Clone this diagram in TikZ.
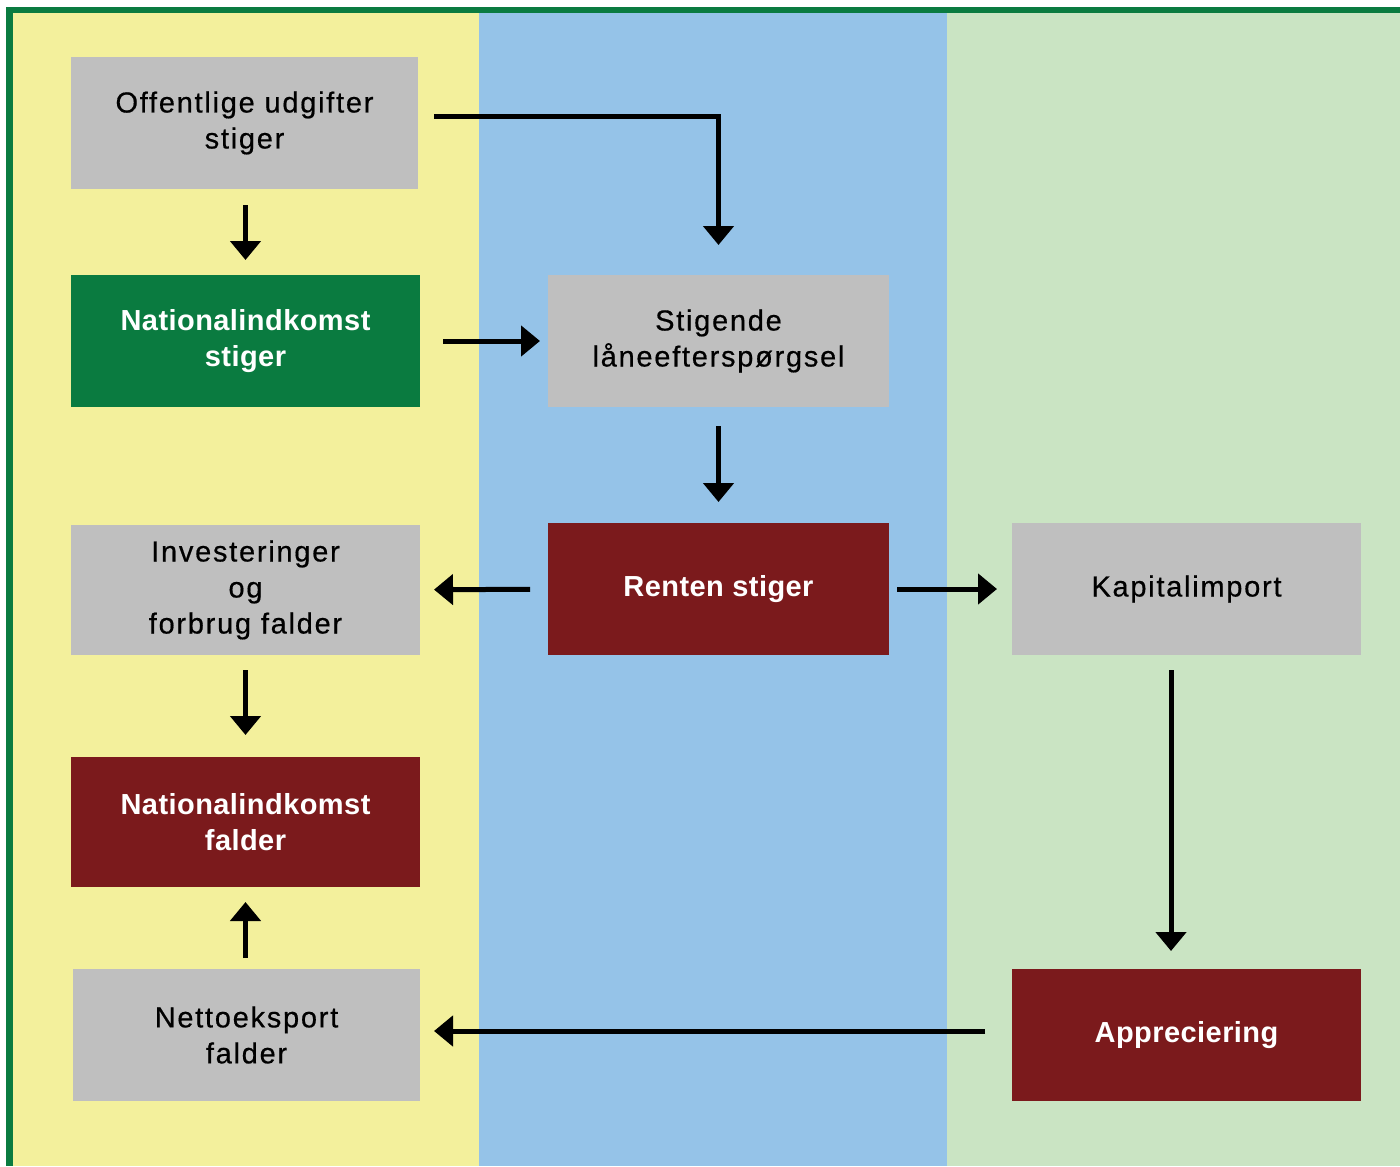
\documentclass[tikz,border=0pt]{standalone}
\usepackage{fontspec}
\setmainfont{Liberation Sans}
\usepackage{tikz}
\usetikzlibrary{calc,arrows.meta}

\definecolor{bgyellow}{RGB}{243,240,156}
\definecolor{bgblue}{RGB}{149,195,232}
\definecolor{bggreen}{RGB}{202,228,195}
\definecolor{boxgray}{RGB}{191,191,191}
\definecolor{darkgreen}{RGB}{10,123,64}
\definecolor{darkred}{RGB}{123,26,28}

\begin{document}
\begin{tikzpicture}[x=0.5pt,y=-0.5pt,inner sep=0pt,outer sep=0pt,
    every node/.style={font=\fontsize{14.5}{18}\selectfont, align=center},
    graybox/.style={fill=boxgray, minimum width=174.5pt, minimum height=66pt,
        font=\fontsize{14.5}{18}\selectfont\addfontfeatures{LetterSpace=6,FakeBold=0.5}},
    greenbox/.style={fill=darkgreen, text=white, minimum width=174.5pt, minimum height=66pt,
        font=\fontsize{14.5}{18}\selectfont\bfseries\addfontfeatures{LetterSpace=1.5}},
    redbox/.style={fill=darkred, text=white, minimum width=174.5pt, minimum height=66pt,
        font=\fontsize{14.5}{18}\selectfont\bfseries\addfontfeatures{LetterSpace=1.5}},
    arr/.style={line width=2.5pt, -{Triangle[length=9.5pt,width=15pt]}}]

    % background columns and frame
    \fill[white] (0,0) rectangle (1400,1166);
    \fill[darkgreen] (6,7) rectangle (1400,1166);
    \fill[bgyellow] (13,13) rectangle (479,1166);
    \fill[bgblue] (479,13) rectangle (947,1166);
    \fill[bggreen] (947,13) rectangle (1400,1166);

    % left column
    \node[graybox, minimum width=173.5pt] (off) at (244.5,123) {Offentlige udgifter\\stiger};
    \node[greenbox] (natup) at (245.5,341) {Nationalindkomst\\stiger};
    \node[graybox, minimum height=65pt] (inv) at (245.5,590) {Investeringer\\og\\forbrug falder};
    \node[redbox, minimum height=65pt] (natdown) at (245.5,822) {Nationalindkomst\\falder};
    \node[graybox, minimum width=173.5pt] (netto) at (246.5,1035) {Nettoeksport\\falder};

    % middle column
    \node[graybox, minimum width=170.5pt] (laan) at (718.5,341) {Stigende\\låneefterspørgsel};
    \node[redbox, minimum width=170.5pt] (rente) at (718.5,589) {Renten stiger};

    % right column
    \node[graybox] (kap) at (1186.5,589) {Kapitalimport};
    \node[redbox] (app) at (1186.5,1035) {Appreciering};

    % arrows
    \draw[arr, shorten <=8pt, shorten >=7.5pt] (natup.north |- off.south) -- (natup.north);
    \draw[arr, shorten <=8pt, shorten >=15pt] ([yshift=3pt]off.east) -| (laan.north);
    \draw[arr, shorten <=11.5pt, shorten >=4pt] (natup) -- (laan);
    \draw[arr, shorten <=9.5pt, shorten >=10.5pt] (laan) -- (rente);
    \draw[arr, shorten <=9pt, shorten >=7pt] (rente) -- (inv);
    \draw[arr, shorten <=4pt, shorten >=7.5pt] (rente) -- (kap);
    \draw[arr, shorten <=7.5pt, shorten >=11pt] (inv) -- (natdown);
    \draw[arr, shorten <=5.5pt, shorten >=7.5pt] (natdown.south |- netto.north) -- (natdown.south);
    \draw[arr, shorten <=7.5pt, shorten >=9pt] ([xshift=-7.75pt]kap.south) -- ([xshift=-7.75pt]app.north);
    \draw[arr, shorten <=13.5pt, shorten >=7pt] ([yshift=2pt]app.west) -- ([yshift=2pt]netto.east);

\end{tikzpicture}
\end{document}
